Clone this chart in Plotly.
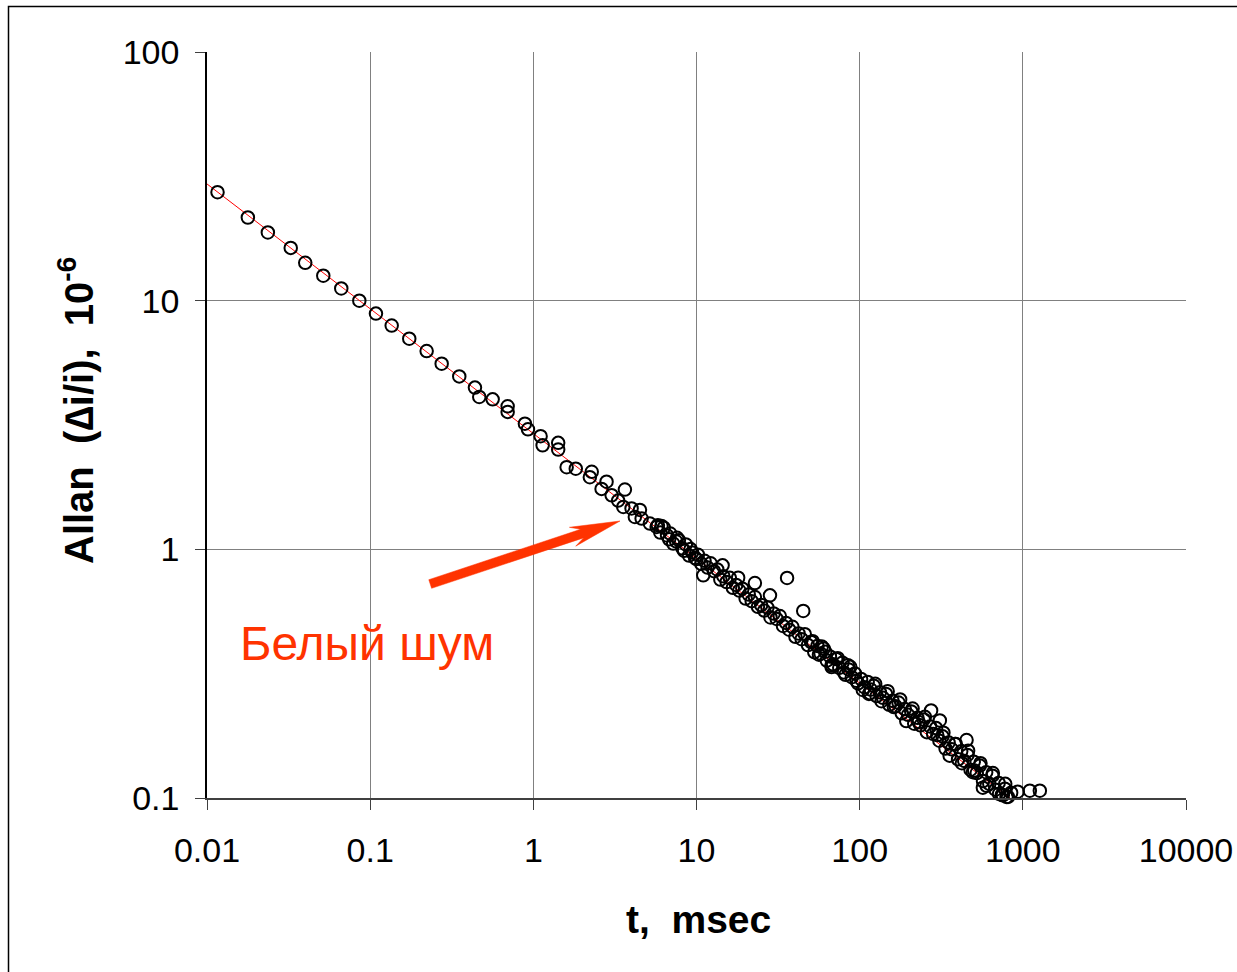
import plotly.graph_objects as go

# ---- data ----
# sparse short-tau points
tau_a = [0.0116, 0.0178, 0.0236, 0.0326, 0.0400, 0.0516, 0.0665, 0.0858, 0.1085, 0.1355,
         0.1736, 0.2219, 0.2743, 0.3516, 0.4387, 0.4662, 0.5631, 0.696, 0.696, 0.888,
         0.927, 1.108, 1.14, 1.42, 1.42, 1.60, 1.82, 2.22, 2.28, 2.62,
         2.81, 3.02, 3.31, 3.56, 3.64, 4.00, 4.19, 4.50, 4.61, 5.18, 5.70]
allan_a = [27.3, 21.6, 18.8, 16.3, 14.2, 12.6, 11.2, 10.0, 8.87, 7.94,
           7.03, 6.27, 5.58, 4.96, 4.47, 4.10, 4.01, 3.76, 3.57, 3.20,
           3.04, 2.85, 2.62, 2.68, 2.52, 2.14, 2.11, 1.95, 2.05, 1.75,
           1.87, 1.65, 1.57, 1.48, 1.74, 1.46, 1.35, 1.44, 1.33, 1.27, 1.23]

# dense band
tau_b = [5.8, 6.0, 6.3, 6.6, 6.9, 7.2, 7.5, 7.8, 8.2, 8.6, 9.0, 9.4, 9.8,
         10.2, 10.7, 11.2, 11.7, 12.2, 12.8, 13.4, 14.0, 14.6, 15.3, 16.0, 16.7, 17.5, 18.3, 19.1,
         20.0, 20.9, 21.8, 22.8, 23.8, 24.9, 26.0, 27.2, 28.4, 29.7, 31.0, 32.4, 33.9, 35.4, 37.0,
         38.7, 40.4, 42.2, 44.1, 46.1, 48.2,
         50.4, 52.7, 55.1, 57.6, 60.2, 62.9, 65.7, 68.7, 71.8, 75.0, 78.4, 81.9, 85.6, 89.5, 93.5, 97.7,
         102, 107, 112, 117, 122, 127, 133, 139, 145, 152, 159, 166, 173, 181, 189, 198,
         207, 216, 226, 236, 247, 258, 270, 282, 294, 308, 322, 336, 351, 367, 384, 401, 419, 438, 458, 478,
         500, 522, 546, 570, 596, 623, 651, 680, 711, 743, 776, 811, 848, 886, 926, 968]
allan_b = [1.25, 1.168, 1.222, 1.137, 1.157, 1.055, 1.077, 1.088, 1.009, 1.046,
           0.944, 0.972, 0.923, 0.952, 0.875, 0.899, 0.845, 0.879, 0.817, 0.830,
           0.756, 0.780, 0.739, 0.768, 0.700, 0.719, 0.683, 0.695, 0.634, 0.658,
           0.619, 0.643, 0.587, 0.597, 0.567, 0.583, 0.532, 0.552, 0.525, 0.539,
           0.492, 0.506, 0.475, 0.488, 0.445, 0.459, 0.435, 0.456, 0.412, 0.424,
           0.386, 0.409, 0.381, 0.399, 0.357, 0.371, 0.345, 0.362, 0.334, 0.350,
           0.313, 0.329, 0.306, 0.317, 0.289, 0.301, 0.279, 0.293, 0.273, 0.283,
           0.257, 0.266, 0.253, 0.262, 0.237, 0.246, 0.234, 0.242, 0.219, 0.228,
           0.216, 0.223, 0.199, 0.210, 0.196, 0.207, 0.184, 0.194, 0.181, 0.191,
           0.170, 0.177, 0.158, 0.167, 0.157, 0.165, 0.143, 0.154, 0.141, 0.149,
           0.130, 0.140, 0.126, 0.135, 0.117, 0.127, 0.114, 0.123, 0.108, 0.115,
           0.103, 0.109, 0.101, 0.105, 0.0971, 0.0998, 0.0939]

# extra points thickening the band
tau_c = [6.1, 6.8, 7.6, 8.4, 9.2, 10.0,
         51.5, 56.3, 61.5, 67.2, 73.4, 80.1, 87.5, 95.6,
         104.5, 114, 124.5, 136, 148.5, 162, 177, 193,
         211, 230, 251, 274, 299, 326, 356, 388,
         423, 462, 504, 550, 600, 655, 715, 780, 851, 930]
allan_c = [1.242, 1.097, 1.113, 0.987, 1.002, 0.914,
           0.427, 0.377, 0.387, 0.342, 0.365, 0.320, 0.337, 0.296,
           0.272, 0.262, 0.288, 0.245, 0.269, 0.232, 0.249, 0.204,
           0.229, 0.202, 0.212, 0.225, 0.179, 0.183, 0.148, 0.165,
           0.138, 0.155, 0.129, 0.138, 0.112, 0.126, 0.104, 0.114, 0.0991, 0.106]

# scattered outliers
tau_d = [11.0, 14.45, 18.0, 22.8, 28.2, 35.9, 45.1, 58.5, 67.3, 84.7,
         115.5, 310, 452, 494, 569, 754, 794, 982, 1104, 1271]
allan_d = [0.786, 0.862, 0.769, 0.732, 0.653, 0.767, 0.565, 0.407, 0.336, 0.342,
           0.264, 0.205, 0.171, 0.127, 0.110, 0.1025, 0.101, 0.0995, 0.107, 0.107]

# power-law trend line (white noise) end points
trend_tau = [0.0087, 1000]
trend_allan = [31.6, 0.0912]

x_ticks = [0.01, 0.1, 1, 10, 100, 1000, 10000]
x_tick_labels = ["0.01", "0.1", "1", "10", "100", "1000", "10000"]
y_ticks = [0.1, 1, 10, 100]
y_tick_labels = ["0.1", "1", "10", "100"]

tau = tau_a + tau_b + tau_c + tau_d
allan = allan_a + allan_b + allan_c + allan_d

FONT = "Liberation Sans, Arial, sans-serif"
ORANGE = "#FF3300"

fig = go.Figure()
fig.add_trace(go.Scatter(x=trend_tau, y=trend_allan, mode="lines",
                         line=dict(color="#FF0000", width=1), showlegend=False,
                         hoverinfo="skip"))
fig.add_trace(go.Scatter(x=tau, y=allan, mode="markers",
                         marker=dict(symbol="circle-open", size=12.5, color="black",
                                     line=dict(width=2, color="black")),
                         cliponaxis=False, showlegend=False))

axis_common = dict(
    type="log", showgrid=True, gridcolor="#808080", gridwidth=1,
    ticks="outside", ticklen=10, tickcolor="#404040", tickwidth=1,
    showline=True, zeroline=False, automargin=False,
    tickfont=dict(family=FONT, size=34, color="black"),
)
fig.update_xaxes(range=[-2, 4], tickvals=x_ticks, ticktext=x_tick_labels,
                 linecolor="#404040", linewidth=1.5, ticklabelstandoff=11, **axis_common)
fig.update_yaxes(range=[-1, 2], tickvals=y_ticks, ticktext=y_tick_labels,
                 linecolor="black", linewidth=1.5, ticklabelstandoff=9, **axis_common)

PW, PH = 1237 - 207 - 51, 972 - 52 - 174


def px(xp):
    return (xp - 207) / PW


def py(yp):
    return (798 - yp) / PH


fig.update_layout(
    width=1237, height=972,
    margin=dict(l=207, r=51, t=52, b=174, autoexpand=False),
    paper_bgcolor="white", plot_bgcolor="white",
    showlegend=False,
    annotations=[
        dict(text="t,\u00a0 msec", xref="paper", yref="paper", x=px(698), y=py(920),
             xanchor="center", yanchor="middle", showarrow=False,
             font=dict(family=FONT, size=39, color="black", weight="bold")),
        dict(text="Allan\u00a0 (\u2206i/i),\u00a0 10<sup>-6</sup>", xref="paper", yref="paper",
             x=px(76), y=py(411), textangle=-90, xanchor="center", yanchor="middle",
             showarrow=False,
             font=dict(family=FONT, size=40, color="black", weight="bold")),
        dict(text="Белый шум", xref="paper", yref="paper", x=px(367), y=py(643),
             xanchor="center", yanchor="middle", showarrow=False,
             font=dict(family=FONT, size=48, color=ORANGE)),
    ],
    shapes=[
        # outer frame
        dict(type="rect", xref="paper", yref="paper", x0=px(8.5), y0=py(985),
             x1=px(1250), y1=py(6.5), line=dict(color="black", width=1.5),
             fillcolor="rgba(0,0,0,0)", layer="below"),
        # arrow pointing to the data
        dict(type="path", xref="paper", yref="paper", xsizemode="pixel", ysizemode="pixel",
             xanchor=px(620), yanchor=py(521),
             path="M0,0 L-50.6,-6.3 L-39.4,-8.3 L-191.2,-58.7 L-188.4,-67.3 L-36.5,-16.9 L-44.3,-25.2 Z",
             fillcolor=ORANGE, line=dict(color=ORANGE, width=0.5), layer="above"),
    ],
)

fig.write_html("out.html")
